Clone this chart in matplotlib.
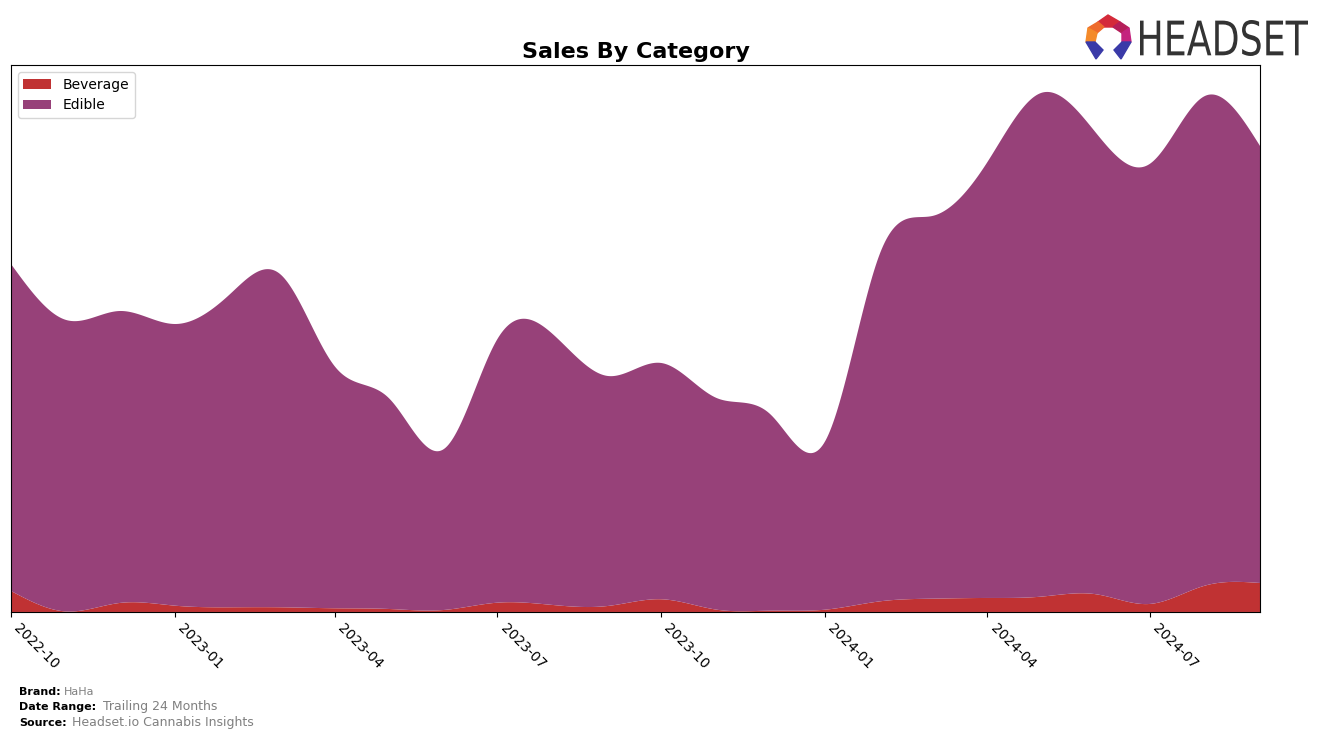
import numpy as np
import pandas as pd
import matplotlib
matplotlib.use("Agg")
import matplotlib.pyplot as plt
import matplotlib.dates as mdates
from matplotlib.patches import Polygon, PathPatch
from matplotlib.textpath import TextPath
from matplotlib.font_manager import FontProperties
from matplotlib.transforms import Affine2D

months = pd.date_range("2022-10-01", "2024-09-01", freq="MS")
beverage = [21, 0.5, 9, 6.3, 4.7, 4.7, 3.7, 3, 2, 9.3, 7, 6, 12.7, 2.3, 1.3, 2.3,
            10.7, 13.3, 14, 15.3, 17.7, 8, 26.3, 29]
total = [348, 292, 301, 288, 318, 338, 245, 214, 163, 273, 278, 236, 249, 214, 198, 171,
         360, 396, 450, 519, 479, 448, 516, 466]
edible = [t - b for t, b in zip(total, beverage)]
labels = ["Beverage", "Edible"]
colors = ["#c03233", "#974179"]


def smooth(x, y, xs):
    # natural cubic spline
    x = np.asarray(x, float); y = np.asarray(y, float)
    n = len(x); h = np.diff(x)
    A = np.zeros((n, n)); r = np.zeros(n)
    A[0, 0] = A[-1, -1] = 1
    for i in range(1, n - 1):
        A[i, i - 1] = h[i - 1]; A[i, i] = 2 * (h[i - 1] + h[i]); A[i, i + 1] = h[i]
        r[i] = 3 * ((y[i + 1] - y[i]) / h[i] - (y[i] - y[i - 1]) / h[i - 1])
    c = np.linalg.solve(A, r)
    b = (y[1:] - y[:-1]) / h - h * (2 * c[:-1] + c[1:]) / 3
    d = (c[1:] - c[:-1]) / (3 * h)
    idx = np.clip(np.searchsorted(x, xs) - 1, 0, n - 2)
    t = xs - x[idx]
    return y[idx] + b[idx] * t + c[idx] * t ** 2 + d[idx] * t ** 3


xd = mdates.date2num(months)
xs = np.linspace(xd[0], xd[-1], 800)
bev_s = np.clip(smooth(xd, beverage, xs), 0, None)
edi_s = np.clip(smooth(xd, edible, xs), 0, None)

fig = plt.figure(figsize=(13.24, 7.39), dpi=100)
ax = fig.add_axes([0.0083, 0.1719, 0.9434, 0.7401])
ax.stackplot(xs, bev_s, edi_s, labels=labels, colors=colors)
ax.set_xlim(xd[0], xd[-1])
ax.set_ylim(0, 547)
ax.set_yticks([])
ax.xaxis.set_major_locator(mdates.MonthLocator(bymonth=[1, 4, 7, 10]))
ax.xaxis.set_major_formatter(mdates.DateFormatter("%Y-%m"))
plt.setp(ax.get_xticklabels(), rotation=-45, ha="left", fontsize=10)
ax.set_title("Sales By Category", fontsize=16, fontweight="bold", pad=5)
ax.legend(loc="upper left", fontsize=10)

# footer
fig.text(0.0143, 0.0591, "Brand:", fontsize=8, fontweight="bold")
fig.text(0.0483, 0.0591, "HaHa", fontsize=8, color="gray")
fig.text(0.0143, 0.0386, "Date Range:", fontsize=8, fontweight="bold")
fig.text(0.0778, 0.0386, "Trailing 24 Months", fontsize=9, color="gray")
fig.text(0.0143, 0.0176, "Source:", fontsize=8, fontweight="bold")
fig.text(0.0543, 0.0176, "Headset.io Cannabis Insights", fontsize=9, color="gray")

# logo
W, H = 1324, 739
tp = TextPath((0, 0), "HEADSET", size=50, prop=FontProperties(family="DejaVu Sans"))
ext = tp.get_extents()
x0, x1, ytop, ybot = 1140, 1308, 20, 56
sx = (x1 - x0) / ext.width
sy = (ybot - ytop) / ext.height
tr = (Affine2D().translate(-ext.x0, -ext.y0).scale(sx, sy)
      .translate(x0, H - ybot).scale(1 / W, 1 / H) + fig.transFigure)
fig.patches.append(PathPatch(tp, transform=tr, color="#333333", lw=0))


def poly(pts, col):
    fig.patches.append(Polygon([(px / W, 1 - py / H) for px, py in pts], closed=True,
                               transform=fig.transFigure, color=col))


poly([(1098, 22), (1108, 15), (1120, 22), (1113, 27), (1104, 27)], "#d42a3a")
poly([(1088, 28), (1098, 22), (1104, 27), (1097, 33)], "#ee6a2c")
poly([(1086, 42), (1088, 28), (1097, 33), (1095, 42)], "#f48a2a")
poly([(1120, 22), (1129, 28), (1122, 33), (1113, 27)], "#b51f5a")
poly([(1129, 28), (1131, 42), (1122, 42), (1122, 33)], "#c4237e")
poly([(1086, 42), (1095, 42), (1103, 50), (1096, 59)], "#3a3aa8")
poly([(1131, 42), (1122, 42), (1114, 50), (1121, 59)], "#3a3aa8")

fig.savefig("out.png", dpi=100)
